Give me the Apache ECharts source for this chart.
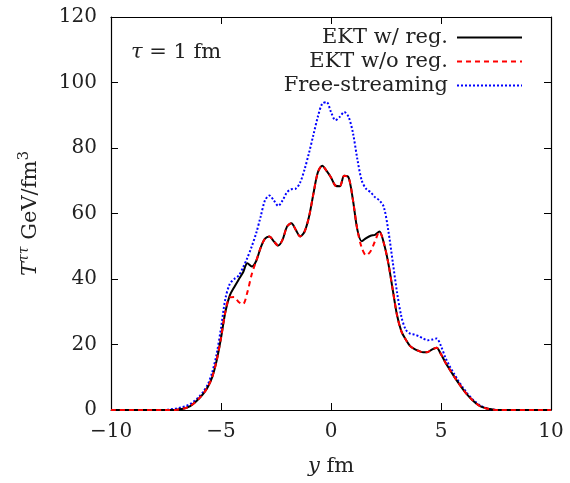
<!DOCTYPE html>
<html>
<head>
<meta charset="utf-8">
<script src="https://cdn.jsdelivr.net/npm/echarts@6/dist/echarts.min.js"></script>
<style>html,body{margin:0;padding:0;background:#fff}#c{width:570px;height:483px}</style>
</head>
<body>
<div id="c"></div>
<script>
var xs = [-10, -7.6, -7.4, -7.2, -7.0, -6.8, -6.6, -6.4, -6.2, -6.0, -5.8, -5.6, -5.4, -5.2, -5.0, -4.8, -4.6, -4.4, -4.2, -4.0, -3.8, -3.6, -3.4, -3.2, -3.0, -2.8, -2.6, -2.4, -2.2, -2.0, -1.8, -1.6, -1.4, -1.2, -1.0, -0.8, -0.6, -0.4, -0.2, 0.0, 0.2, 0.4, 0.6, 0.8, 1.0, 1.2, 1.4, 1.6, 1.8, 2.0, 2.2, 2.4, 2.6, 2.8, 3.0, 3.2, 3.4, 3.6, 3.8, 4.0, 4.2, 4.4, 4.6, 4.8, 5.0, 5.2, 5.4, 5.6, 5.8, 6.0, 6.2, 6.4, 6.6, 6.8, 7.0, 7.2, 7.4, 7.6, 10];
var ektReg = [0, 0, 0, 0, 0.1, 0.3, 0.6, 1.2, 2.2, 3.5, 5.0, 7.0, 10, 15, 22, 30, 35, 37.5, 39.8, 42, 44.8, 43.8, 45.5, 49.5, 52.3, 53, 51.5, 50.2, 52, 56, 57, 55, 53, 54.5, 59, 66, 72.5, 74.6, 73, 71, 68.5, 68.3, 71.5, 71, 64, 55, 51.5, 52.5, 53.2, 53.5, 54.5, 51, 45, 37, 29, 24, 21.5, 19.5, 18.6, 18, 17.6, 17.7, 18.5, 19, 17, 14.5, 12.3, 10.2, 8.2, 6.3, 4.6, 3.2, 2.0, 1.1, 0.6, 0.3, 0.1, 0, 0];
var ektNoReg = [0, 0, 0, 0, 0.1, 0.3, 0.6, 1.2, 2.2, 3.5, 5.0, 7.0, 10, 15, 22, 30, 34.4, 34.5, 33, 32.3, 36, 41.5, 45.5, 49.5, 52.3, 53, 51.5, 50.2, 52, 56, 57, 55, 53, 54.5, 59, 66, 72.5, 74.6, 73, 71, 68.5, 68.3, 71.5, 71, 64, 55, 49.5, 47.2, 48.5, 51.5, 54.5, 51, 45, 37, 29, 24, 21.5, 19.5, 18.6, 18, 17.6, 17.7, 18.5, 19, 17, 14.5, 12.3, 10.2, 8.2, 6.3, 4.6, 3.2, 2.0, 1.1, 0.6, 0.3, 0.1, 0, 0];
var freeStream = [0, 0, 0.1, 0.3, 0.5, 0.8, 1.2, 1.8, 2.8, 4.0, 5.6, 7.8, 11.5, 17, 25, 34, 38.5, 40, 41, 43.5, 46.5, 50, 54, 59, 64, 65.5, 64, 62.3, 64, 66.5, 67.4, 67.6, 69.5, 73.5, 78.5, 84, 89.5, 93.5, 94, 91, 88.5, 89.5, 91, 89.5, 84.5, 76.5, 70, 67.5, 66.5, 65, 64, 62, 55, 45.5, 36, 28.5, 24.5, 23.3, 23, 22.5, 21.8, 21.3, 21.5, 21.8, 19.5, 16, 13.3, 11, 8.8, 6.8, 5, 3.5, 2.3, 1.3, 0.7, 0.3, 0.1, 0, 0];
var seriesNames = ['EKT w/ reg.', 'EKT w/o reg.', 'Free-streaming'];
var xTicks = [-10, -5, 0, 5, 10];
var yTicks = [0, 20, 40, 60, 80, 100, 120];

function pairs(ys) { return xs.map(function (x, i) { return [x, ys[i]]; }); }

var FONT = 'DejaVu Serif';
var chart = echarts.init(document.getElementById('c'));
var tickStyle = { show: true, inside: true, length: 7, lineStyle: { color: '#000', width: 1 } };
var axisLine = { show: true, onZero: false, lineStyle: { color: '#000', width: 1.2 } };
var xBase = { type: 'value', min: xTicks[0], max: xTicks[xTicks.length - 1], interval: xTicks[1] - xTicks[0], splitLine: { show: false }, axisLine: axisLine, axisTick: tickStyle };
var yBase = { type: 'value', min: yTicks[0], max: yTicks[yTicks.length - 1], interval: yTicks[1] - yTicks[0], splitLine: { show: false }, axisLine: axisLine, axisTick: tickStyle };

chart.setOption({
  animation: false,
  backgroundColor: '#fff',
  grid: { left: 111, right: 19, top: 17, bottom: 73, show: false },
  xAxis: [
    Object.assign({}, xBase, {
      position: 'bottom',
      axisLabel: { fontFamily: FONT, fontSize: 20, color: '#222', margin: 12, formatter: function (v) { return String(v).replace('-', '\u2212'); } },
      name: '{i|y} fm', nameLocation: 'middle', nameGap: 46,
      nameTextStyle: { fontFamily: FONT, fontSize: 21, color: '#222', rich: { i: { fontFamily: FONT, fontStyle: 'italic', fontSize: 21, color: '#222' } } }
    }),
    Object.assign({}, xBase, { position: 'top', axisLabel: { show: false } })
  ],
  yAxis: [
    Object.assign({}, yBase, {
      position: 'left',
      axisLabel: { fontFamily: FONT, fontSize: 20, color: '#222', margin: 14 },
      name: '{i|T}{s|ττ} GeV/fm{t|3}', nameLocation: 'middle', nameRotate: 90, nameGap: 66,
      nameTextStyle: { fontFamily: FONT, fontSize: 21, color: '#222', lineHeight: 28,
        rich: {
          i: { fontFamily: FONT, fontStyle: 'italic', fontSize: 21, color: '#222', lineHeight: 28 },
          s: { fontFamily: FONT, fontStyle: 'italic', fontSize: 14, color: '#222', verticalAlign: 'top', lineHeight: 28 },
          t: { fontFamily: FONT, fontSize: 15, color: '#222', verticalAlign: 'top', lineHeight: 28 }
        } }
    }),
    Object.assign({}, yBase, { position: 'right', axisLabel: { show: false } })
  ],
  legend: {
    orient: 'vertical', right: 42, top: 22, align: 'right',
    itemWidth: 65, itemHeight: 14, itemGap: 3,
    itemStyle: { opacity: 0 },
    textStyle: { fontFamily: FONT, fontSize: 21, color: '#222', lineHeight: 21, padding: [0, 4, 0, 0] },
    data: seriesNames
  },
  graphic: [{
    type: 'text', left: 131, top: 42,
    style: { text: '{i|τ} = 1 fm', font: '21px "DejaVu Serif"', fill: '#222',
      rich: { i: { fontFamily: FONT, fontStyle: 'italic', fontSize: 21, fill: '#222' } } }
  }],
  series: [
    { name: seriesNames[0], type: 'line', data: pairs(ektReg), smooth: 0.3, symbol: 'none', z: 3,
      lineStyle: { color: '#000', width: 2, type: 'solid' }, itemStyle: { color: '#000' } },
    { name: seriesNames[1], type: 'line', data: pairs(ektNoReg), smooth: 0.3, symbol: 'none', z: 4,
      lineStyle: { color: '#ff0000', width: 2, type: [5, 4] }, itemStyle: { color: '#ff0000' } },
    { name: seriesNames[2], type: 'line', data: pairs(freeStream), smooth: 0.3, symbol: 'none', z: 2,
      lineStyle: { color: '#0000ff', width: 2, type: [2, 2] }, itemStyle: { color: '#0000ff' } }
  ]
});
</script>
</body>
</html>
